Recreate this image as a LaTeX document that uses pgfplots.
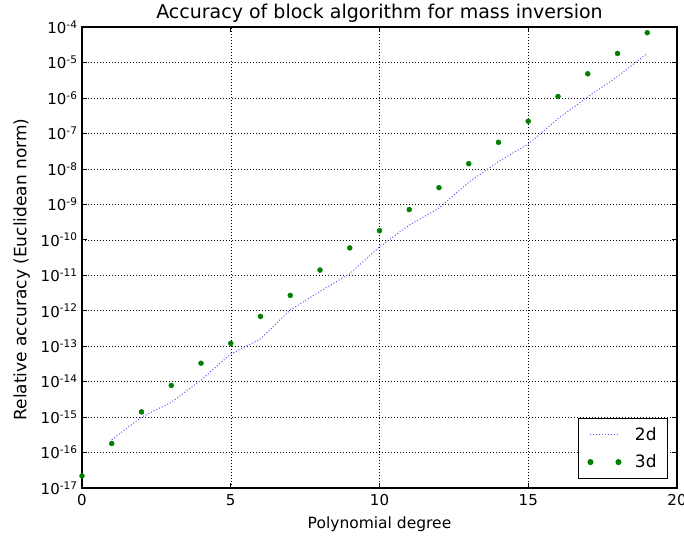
\documentclass[border=0pt]{standalone}
\usepackage{fontspec}
\setmainfont{DejaVu Sans}
\usepackage{pgfplots}
\pgfplotsset{compat=1.18}
\definecolor{mplblue}{rgb}{0.35,0.35,1}
\definecolor{mplgreen}{rgb}{0,0.5,0}
\begin{document}
\begin{tikzpicture}
\begin{axis}[
    scale only axis,
    width=595pt, height=461pt,
    xmin=0, xmax=20,
    ymode=log, ymin=1e-17, ymax=1e-4,
    xtick={0,5,10,15,20},
    xticklabels={0,5,10,15,20},
    ytick={1e-17,1e-16,1e-15,1e-14,1e-13,1e-12,1e-11,1e-10,1e-9,1e-8,1e-7,1e-6,1e-5,1e-4},
    yticklabels={10\textsuperscript{-17},10\textsuperscript{-16},10\textsuperscript{-15},10\textsuperscript{-14},10\textsuperscript{-13},10\textsuperscript{-12},10\textsuperscript{-11},10\textsuperscript{-10},10\textsuperscript{-9},10\textsuperscript{-8},10\textsuperscript{-7},10\textsuperscript{-6},10\textsuperscript{-5},10\textsuperscript{-4}},
    yminorticks=false,
    tick align=inside,
    major tick length=5pt,
    tick style={black, line width=0.6pt},
    axis line style={line width=1.2pt},
    grid=major,
    major grid style={dash pattern=on 1pt off 2pt, black, line width=0.5pt},
    ticklabel style={font=\fontsize{15}{17}\selectfont},
    yticklabel style={xshift=-1pt},
    xticklabel style={yshift=-3pt},
    title={Accuracy of block algorithm for mass inversion},
    title style={font=\fontsize{19}{21}\selectfont, yshift=-5pt},
    xlabel={Polynomial degree},
    ylabel={Relative accuracy (Euclidean norm)},
    label style={font=\fontsize{17}{20}\selectfont},
    xlabel style={font=\fontsize{15.5}{18}\selectfont, yshift=-4pt},
    ylabel style={xshift=-12pt, yshift=4pt},
    legend style={at={(0.985,0.02)}, anchor=south east, draw=black, line width=1pt,
        font=\fontsize{17}{20}\selectfont, inner xsep=9pt, inner ysep=7pt,
        row sep=9pt},
    legend cell align=right,
]
\addplot[mplblue, dash pattern=on 1pt off 2pt, line width=1pt,
    legend image code/.code={\draw (0pt,0pt) -- (28pt,0pt);}]
    coordinates {
    (1,2.3e-16) (2,1.0e-15) (3,2.6e-15) (4,1.1e-14) (5,6.0e-14)
    (6,1.6e-13) (7,1.05e-12) (8,3.5e-12) (9,1.1e-11) (10,6.3e-11)
    (11,2.6e-10) (12,7.8e-10) (13,4.2e-9) (14,1.6e-8) (15,5.0e-8)
    (16,2.6e-7) (17,1.07e-6) (18,4.0e-6) (19,1.8e-5)
    };
\addlegendentry{\hspace*{12pt}2d}
\addplot[only marks, mark=*, mark size=2.5pt, mplgreen,
    legend image code/.code={\draw plot coordinates {(0pt,0pt) (28pt,0pt)};}]
    coordinates {
    (0,2.2e-17) (1,1.8e-16) (2,1.4e-15) (3,7.8e-15) (4,3.3e-14)
    (5,1.2e-13) (6,6.9e-13) (7,2.7e-12) (8,1.4e-11) (9,5.9e-11)
    (10,1.8e-10) (11,7.1e-10) (12,2.95e-9) (13,1.4e-8) (14,5.6e-8)
    (15,2.2e-7) (16,1.1e-6) (17,4.8e-6) (18,1.8e-5) (19,6.9e-5)
    };
\addlegendentry{\hspace*{12pt}3d}
\end{axis}
\pgfresetboundingbox
\path ([xshift=-82pt,yshift=-49pt]current axis.south west)
    rectangle ([xshift=7pt,yshift=27pt]current axis.north east);
\end{tikzpicture}
\end{document}
